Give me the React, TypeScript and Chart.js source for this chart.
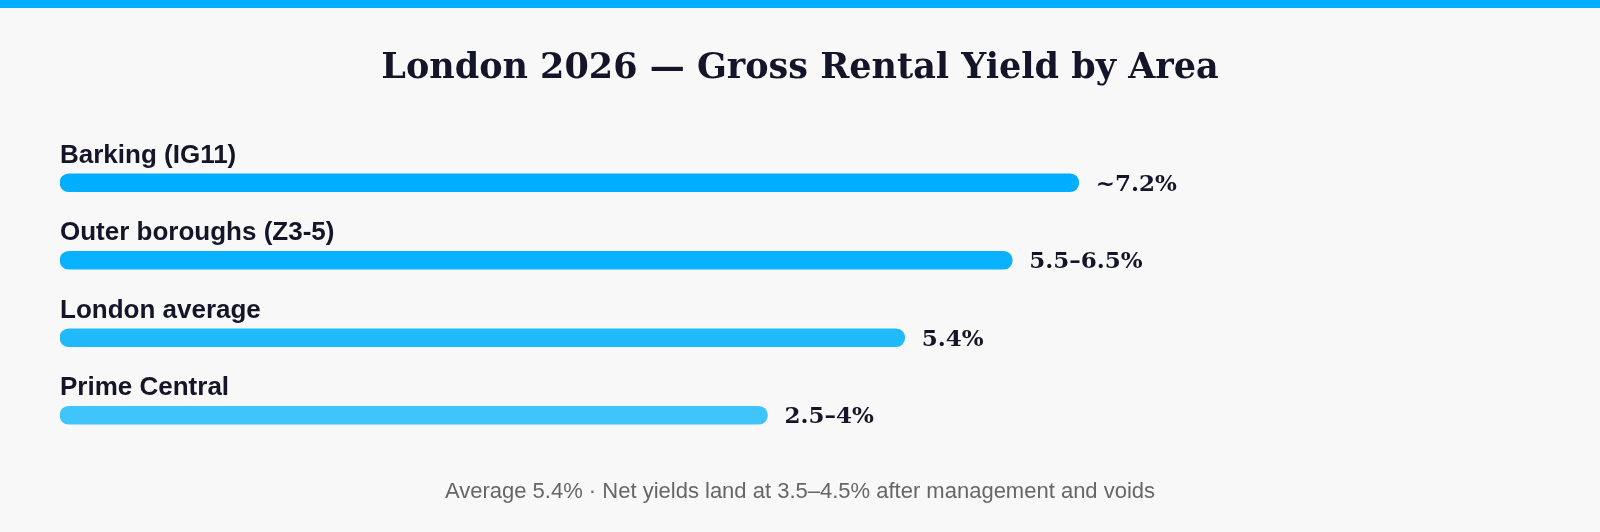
import React, { useEffect, useRef } from 'react';
import { Chart, registerables } from 'chart.js';

Chart.register(...registerables);

const categories = ['Barking (IG11)', 'Outer boroughs (Z3-5)', 'London average', 'Prime Central'];
const barValues = [7.2, 6.73, 5.97, 5.0];
const valueLabels = ['~7.2%', '5.5–6.5%', '5.4%', '2.5–4%'];
const barColors = ['#00aeff', '#0ab2fd', '#20b9fc', '#40c4fc'];
const titleText = 'London 2026 — Gross Rental Yield by Area';
const footerText = 'Average 5.4% · Net yields land at 3.5–4.5% after management and voids';
const axisMax = 10;

const INK = '#15152a';
const BG = '#f8f8f8';
const ACCENT = '#00aeff';

const decoPlugin = {
  id: 'deco',
  beforeDraw(chart: any) {
    const { ctx, width } = chart;
    ctx.save();
    ctx.fillStyle = BG;
    ctx.fillRect(0, 0, width, chart.height);
    ctx.fillStyle = ACCENT;
    ctx.fillRect(0, 0, width, 8);
    ctx.fillStyle = INK;
    ctx.font = 'bold 35px "DejaVu Serif"';
    ctx.textAlign = 'center';
    ctx.textBaseline = 'alphabetic';
    ctx.fillText(titleText, width / 2, 78);
    ctx.fillStyle = '#666666';
    ctx.font = '22px "Liberation Sans"';
    ctx.fillText(footerText, width / 2, 498);
    ctx.restore();
  },
  afterDatasetsDraw(chart: any) {
    const { ctx } = chart;
    const meta = chart.getDatasetMeta(0);
    ctx.save();
    ctx.textAlign = 'left';
    ctx.textBaseline = 'alphabetic';
    meta.data.forEach((bar: any, i: number) => {
      const { x, y } = bar.getProps(['x', 'y'], true);
      ctx.fillStyle = INK;
      ctx.font = 'bold 26px "Liberation Sans"';
      ctx.fillText(categories[i], chart.chartArea.left, y - 20);
      ctx.font = 'bold 23px "DejaVu Serif"';
      ctx.fillText(valueLabels[i], x + 17, y + 8);
    });
    ctx.restore();
  },
};

export default function App() {
  const ref = useRef<HTMLCanvasElement | null>(null);
  useEffect(() => {
    document.body.style.margin = '0';
    document.body.style.background = BG;
    const canvas = ref.current;
    if (!canvas) return;
    const chart = new Chart(canvas, {
      type: 'bar',
      data: {
        labels: categories,
        datasets: [
          {
            data: barValues,
            backgroundColor: barColors,
            borderRadius: 9,
            borderSkipped: false,
            barThickness: 18,
          },
        ],
      },
      options: {
        indexAxis: 'y',
        animation: false,
        responsive: false,
        devicePixelRatio: 1,
        layout: { padding: { left: 60, right: 125, top: 144, bottom: 78 } },
        plugins: { legend: { display: false }, tooltip: { enabled: false }, title: { display: false } },
        scales: {
          x: { display: false, min: 0, max: axisMax },
          y: { display: false, offset: true },
        },
      },
      plugins: [decoPlugin],
    });
    return () => chart.destroy();
  }, []);
  return <canvas ref={ref} width={1600} height={532} style={{ display: 'block', width: 1600, height: 532 }} />;
}
